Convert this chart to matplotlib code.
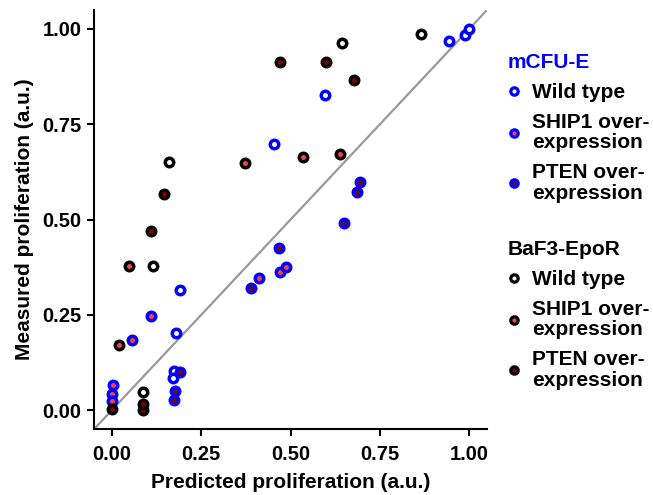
import matplotlib
matplotlib.use("Agg")
import matplotlib.pyplot as plt
from matplotlib.lines import Line2D

plt.rcParams['font.family'] = ['Liberation Sans', 'DejaVu Sans']
plt.rcParams['font.weight'] = 'bold'

# mCFU-E (blue edge)
cfu_wt_x = [0.943, 0.988, 1.000, 0.596, 0.454, 0.190, 0.179, 0.175, 0.172]
cfu_wt_y = [0.968, 0.985, 1.000, 0.827, 0.697, 0.314, 0.202, 0.103, 0.083]
cfu_ship_x = [0.110, 0.057, 0.413, 0.469, 0.486, 0.004, 0.001, 0.000]
cfu_ship_y = [0.248, 0.183, 0.346, 0.362, 0.375, 0.065, 0.042, 0.025]
cfu_pten_x = [0.694, 0.685, 0.649, 0.467, 0.388, 0.191, 0.177, 0.175]
cfu_pten_y = [0.599, 0.571, 0.490, 0.425, 0.320, 0.100, 0.051, 0.026]

# BaF3-EpoR (black edge)
baf_wt_x = [0.864, 0.644, 0.161, 0.116, 0.088]
baf_wt_y = [0.987, 0.963, 0.652, 0.378, 0.048]
baf_ship_x = [0.372, 0.534, 0.638, 0.047, 0.019]
baf_ship_y = [0.648, 0.664, 0.671, 0.377, 0.172]
baf_pten_x = [0.471, 0.600, 0.678, 0.146, 0.110, 0.000, 0.088, 0.088]
baf_pten_y = [0.914, 0.912, 0.865, 0.567, 0.469, 0.002, 0.000, 0.015]

labels = ['Wild type', 'SHIP1 over-\nexpression', 'PTEN over-\nexpression']
fills = ['white', '#ff4040', '#800000']
BLUE = '#0000ff'

fig = plt.figure(figsize=(6.53, 4.95), dpi=100)
ax = fig.add_axes([0.144, 0.133, 0.602, 0.847])

ax.plot([-0.05, 1.05], [-0.05, 1.05], color='#999999', lw=1.6, zorder=1)

groups = [
    (cfu_wt_x, cfu_wt_y, BLUE, fills[0]),
    (cfu_ship_x, cfu_ship_y, BLUE, fills[1]),
    (cfu_pten_x, cfu_pten_y, BLUE, fills[2]),
    (baf_wt_x, baf_wt_y, 'black', fills[0]),
    (baf_ship_x, baf_ship_y, 'black', fills[1]),
    (baf_pten_x, baf_pten_y, 'black', fills[2]),
]
z = 2
for xs, ys, edge, face in groups:
    for x, y in zip(xs, ys):
        ax.plot(x, y, 'o', ms=6.1, mew=2.5, mec=edge, mfc=face, zorder=z)
        z += 0.01

ax.set_xlim(-0.05, 1.05)
ax.set_ylim(-0.05, 1.05)
ticks = [0.0, 0.25, 0.5, 0.75, 1.0]
ax.set_xticks(ticks)
ax.set_yticks(ticks)
ax.set_xticklabels(['%.2f' % t for t in ticks])
ax.set_yticklabels(['%.2f' % t for t in ticks])
ax.tick_params(labelsize=14.5, length=5, width=1.5, colors='black')
ax.tick_params(axis='x', pad=6.5)
ax.tick_params(axis='y', pad=4)
for s in ['top', 'right']:
    ax.spines[s].set_visible(False)
for s in ['left', 'bottom']:
    ax.spines[s].set_linewidth(1.5)

ax.set_xlabel('Predicted proliferation (a.u.)', fontsize=15, fontweight='bold', labelpad=6.5)
ax.set_ylabel('Measured proliferation (a.u.)', fontsize=15, fontweight='bold', labelpad=6)


def make_legend(edge, title, title_color, anchor):
    handles = [Line2D([], [], ls='none', marker='o', ms=5.3, mew=2.3, mec=edge, mfc=f)
               for f in fills]
    leg = fig.legend(handles, labels, loc='upper left', bbox_to_anchor=anchor,
                     frameon=False, title=title, alignment='left',
                     prop={'size': 15, 'weight': 'bold'},
                     borderpad=0, borderaxespad=0, handlelength=0.6,
                     handletextpad=0.55, labelspacing=0.52)
    leg.get_title().set_fontsize(15)
    leg.get_title().set_fontweight('bold')
    leg.get_title().set_color(title_color)
    for t in leg.get_texts():
        t.set_linespacing(1.1)
    return leg


make_legend(BLUE, 'mCFU-E', BLUE, (508 / 653, 1 - 53 / 495))
make_legend('black', 'BaF3-EpoR', 'black', (508 / 653, 1 - 240 / 495))

fig.savefig('out.png', dpi=100)
